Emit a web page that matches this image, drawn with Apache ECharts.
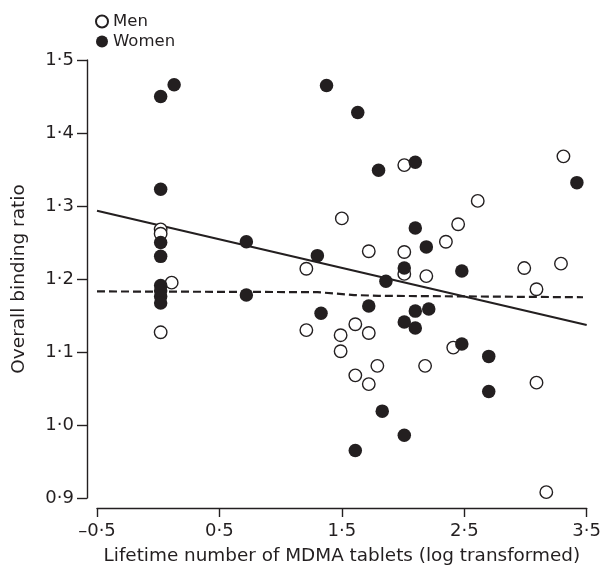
<!DOCTYPE html>
<html>
<head>
<meta charset="utf-8">
<script src="https://cdn.jsdelivr.net/npm/echarts@6/dist/echarts.min.js"></script>
<style>
  html, body { margin: 0; padding: 0; background: #fff; }
  #chart { width: 604px; height: 570px; }
</style>
</head>
<body>
<div id="chart"></div>
<script>
// points: [lifetime tablets (log), overall binding ratio]
const menPoints = [
  [0.02, 1.268], [0.02, 1.262], [0.02, 1.127], [0.11, 1.195],
  [2.01, 1.356], [1.50, 1.283], [2.35, 1.251], [1.72, 1.238], [2.01, 1.237],
  [1.21, 1.214], [2.01, 1.207], [2.19, 1.204], [1.21, 1.130], [1.49, 1.123],
  [1.61, 1.138], [1.72, 1.126], [1.49, 1.101], [2.41, 1.106], [1.79, 1.081],
  [1.61, 1.068], [1.72, 1.056], [2.18, 1.081], [3.31, 1.368], [2.61, 1.307],
  [2.45, 1.275], [2.99, 1.215], [3.29, 1.221], [3.09, 1.186], [3.09, 1.058],
  [3.17, 0.908]
];
const womenPoints = [
  [0.02, 1.450], [0.13, 1.466], [0.02, 1.323], [0.02, 1.250], [0.02, 1.231],
  [0.02, 1.191], [0.02, 1.184], [0.02, 1.176], [0.02, 1.167],
  [0.72, 1.251], [0.72, 1.178],
  [1.375, 1.465], [1.63, 1.428], [1.80, 1.349], [2.10, 1.360], [2.10, 1.270],
  [2.19, 1.244], [1.30, 1.232], [2.01, 1.215], [1.86, 1.197], [1.72, 1.163],
  [1.33, 1.153], [2.01, 1.141], [2.10, 1.156], [2.21, 1.159], [2.10, 1.133],
  [2.48, 1.111], [1.83, 1.019], [2.01, 0.986], [1.61, 0.965], [3.42, 1.332],
  [2.48, 1.211], [2.70, 1.094], [2.70, 1.046]
];
// fitted lines
const solidFit = [[-0.5, 1.2935], [3.5, 1.137]];
const dashedFit = [[-0.5, 1.183], [1.3, 1.182], [1.6, 1.178], [1.8, 1.177], [3.47, 1.175]];

const ink = '#231f20';
const font = 'DejaVu Sans';

// 1.5 -> 1·5, -0.5 -> –0·5
function fmt(v) {
  return v.toFixed(1).replace('.', '\u00b7').replace('-', '\u2013');
}

const chart = echarts.init(document.getElementById('chart'));
chart.setOption({
  animation: false,
  textStyle: { fontFamily: font, color: ink },
  legend: {
    data: ['Men', 'Women'],
    orient: 'vertical',
    left: 90,
    top: 8,
    itemWidth: 12,
    itemHeight: 12,
    itemGap: 3,
    icon: 'circle',
    textStyle: { fontFamily: font, fontSize: 16.5, color: ink }
  },
  grid: { left: 97, right: 17, top: 60, bottom: 70 },
  xAxis: {
    type: 'value',
    min: -0.5, max: 3.5, interval: 1,
    offset: 10,
    name: 'Lifetime number of MDMA tablets (log transformed)',
    nameLocation: 'middle',
    nameGap: 39,
    nameTextStyle: { fontFamily: font, fontSize: 18.4, color: ink },
    axisLine: { onZero: false, lineStyle: { color: ink, width: 1.4 } },
    axisTick: { length: 9, lineStyle: { color: ink, width: 1.4 } },
    axisLabel: { fontSize: 18, color: ink, margin: 14, formatter: fmt },
    splitLine: { show: false }
  },
  yAxis: {
    type: 'value',
    min: 0.9, max: 1.5, interval: 0.1,
    offset: 10,
    name: 'Overall binding ratio',
    nameLocation: 'middle',
    nameGap: 58,
    nameTextStyle: { fontFamily: font, fontSize: 18.5, color: ink },
    axisLine: { show: true, onZero: false, lineStyle: { color: ink, width: 1.4 } },
    axisTick: { show: true, length: 10, lineStyle: { color: ink, width: 1.4 } },
    axisLabel: { fontSize: 18, color: ink, margin: 13, formatter: fmt },
    splitLine: { show: false }
  },
  series: [
    {
      type: 'line', data: solidFit, showSymbol: false, silent: true, z: 1,
      lineStyle: { color: ink, width: 2.2 }
    },
    {
      type: 'line', data: dashedFit, showSymbol: false, silent: true, z: 1,
      lineStyle: { color: ink, width: 2.2, type: [8, 4] }
    },
    {
      name: 'Men', type: 'scatter', data: menPoints, symbol: 'circle', symbolSize: 12.5, z: 2,
      itemStyle: { color: '#fff', borderColor: ink, borderWidth: 1.4, opacity: 1 }
    },
    {
      name: 'Women', type: 'scatter', data: womenPoints, symbol: 'circle', symbolSize: 13.5, z: 3,
      itemStyle: { color: ink, opacity: 1 }
    }
  ]
});
</script>
</body>
</html>
